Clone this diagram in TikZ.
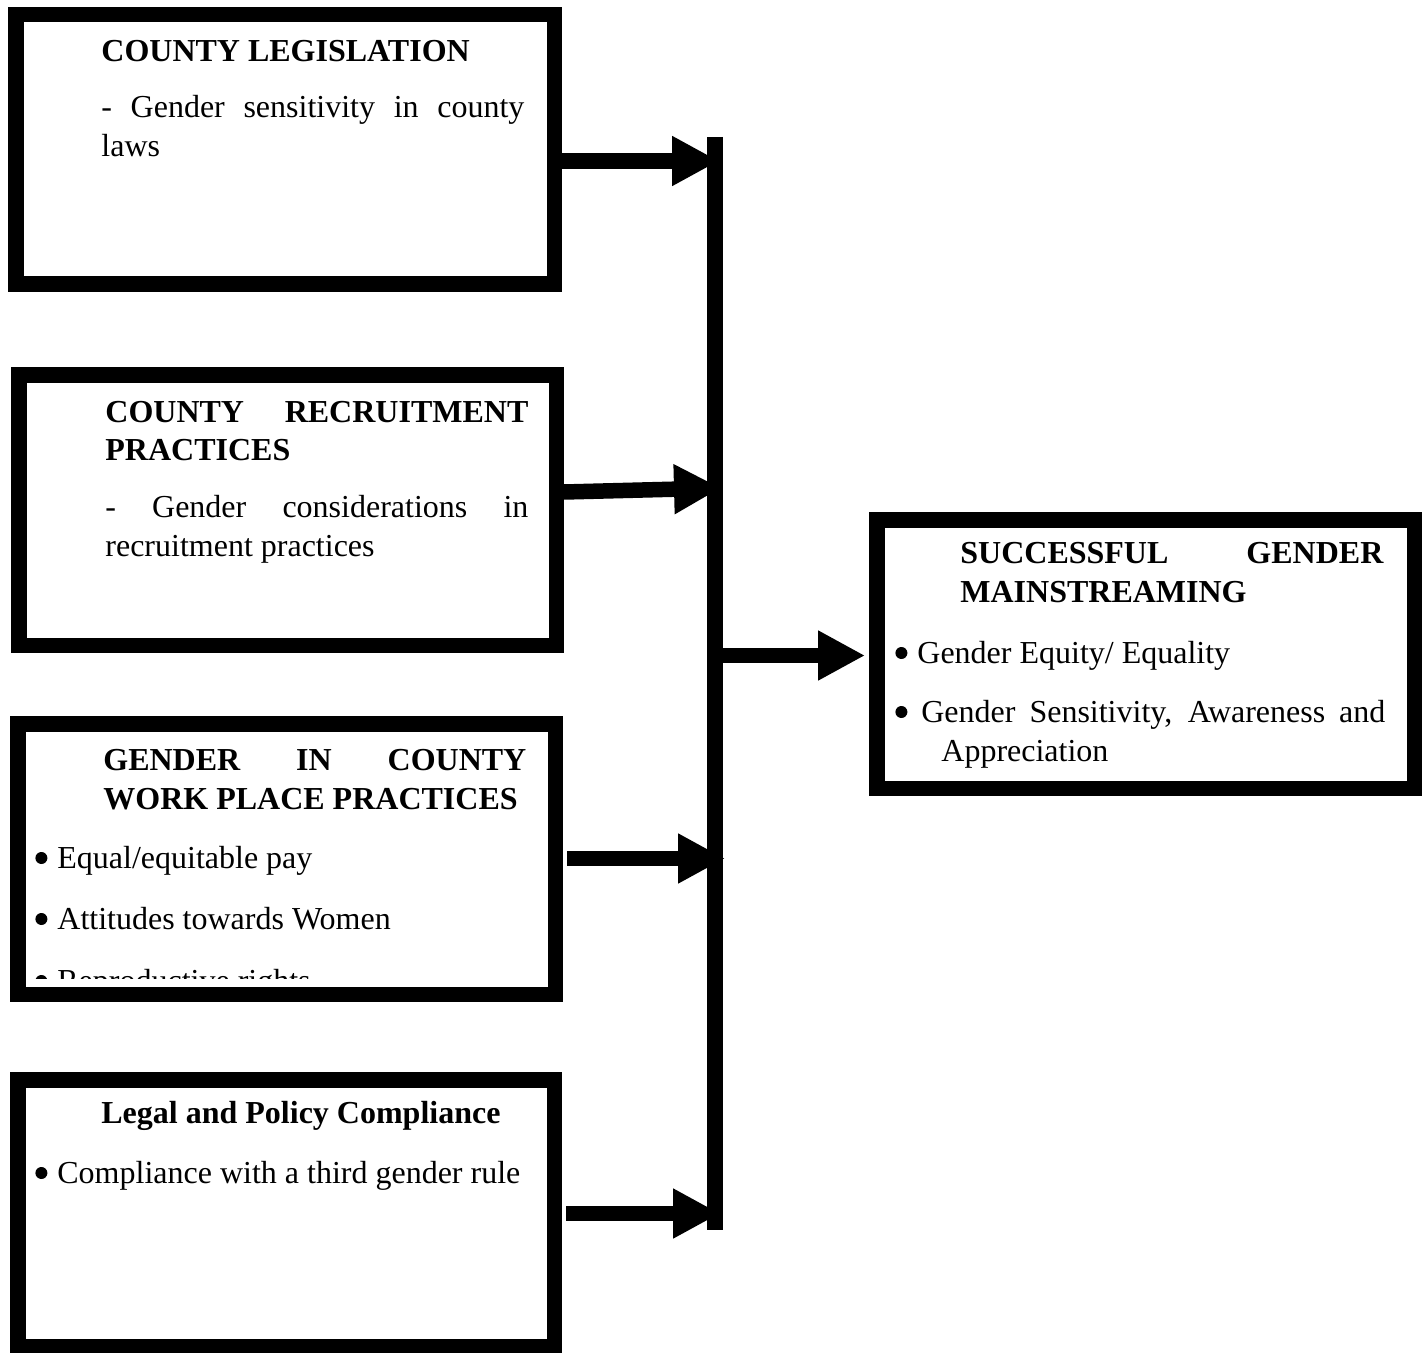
\documentclass[tikz,border=0pt]{standalone}
\usepackage{fontspec}
\setmainfont{Liberation Serif}
\usetikzlibrary{arrows.meta}
\hyphenpenalty=10000
\exhyphenpenalty=10000
\tolerance=10000
\newcommand{\blt}{\tikz[baseline=-5pt]\fill (0,0) circle (3pt);}

\begin{document}
\begin{tikzpicture}[x=5pt,y=5pt,
  frame/.style={draw=black,line width=7.75pt,minimum width=268.75pt,minimum height=135.25pt},
  txt/.style={anchor=base west,font=\fontsize{16pt}{19.5pt}\selectfont},
  head/.style={txt,font=\fontsize{16pt}{19.5pt}\selectfont\bfseries},
  para/.style={text width=211.5pt,align=justify},
  flow/.style={line width=7.75pt,-{Triangle[length=23.5pt,width=23.5pt]}}]
\tikzstyle{every node}+=[inner sep=0pt]
\useasboundingbox (0,0) rectangle (142.8,-135.3);
% boxes
\node [frame,minimum width=269.25pt,minimum height=134.75pt] (legis) at (28.5,-14.95) {};
\node [frame] (recruit) at (28.75,-51.0) {};
\node [frame] (workplace) at (28.65,-85.9) {};
\node [frame,minimum width=268.25pt,minimum height=133.25pt] (legal) at (28.6,-121.3) {};
\node [frame,minimum height=134.25pt] (success) at (114.55,-65.4) {};
% texts
\node [head] (legisHead) at (10.1,-6.2) {COUNTY LEGISLATION};
\node [txt,para] (legisBody) at (10.1,-11.8) {- Gender sensitivity in county laws};
\node [head,para] (recruitHead) at (10.5,-42.2) {COUNTY RECRUITMENT PRACTICES};
\node [txt,para] (recruitBody) at (10.5,-51.7) {- Gender considerations in recruitment practices};
\node [head,para] (workHead) at (10.3,-77.0) {GENDER IN COUNTY WORK PLACE PRACTICES};
\begin{scope}
\clip (2.5,-73.2) rectangle (54.8,-97.8);
\node [txt] (workPay) at (3.5,-86.8) {\blt\hspace{5pt}Equal/equitable pay};
\node [txt] (workAtt) at (3.5,-92.9) {\blt\hspace{5pt}Attitudes towards Women};
\node [txt] (workRep) at (3.5,-99.1) {\blt\hspace{5pt}Reproductive rights};
\end{scope}
\node [head] (legalHead) at (10.1,-112.3) {Legal and Policy Compliance};
\node [txt] (legalRule) at (3.5,-118.3) {\blt\hspace{5pt}Compliance with a third gender rule};
\node [head,para] (successHead) at (96.0,-56.3) {SUCCESSFUL GENDER MAINSTREAMING};
\node [txt] (successEq) at (89.5,-66.3) {\blt\hspace{5pt}Gender Equity/ Equality};
\node [txt,text width=245pt,align=justify] (successSens) at (89.5,-72.2)
  {\hangindent=23pt\hangafter=1 \blt\ Gender Sensitivity, Awareness and Appreciation\par};
% arrows into the bar
\coordinate (t1) at (71.9,-16.1);
\coordinate (s2) at (56.4,-49.2);
\coordinate (t2) at (72.1,-48.8);
\coordinate (t3) at (72.5,-85.85);
\coordinate (t4) at (72.0,-121.35);
\draw [flow] (legis.east |- t1) -- (t1);
\draw [flow] (recruit.east |- s2) -- (t2);
\draw [flow,shorten <=2pt] (workplace.east |- t3) -- (t3);
\draw [flow,shorten <=2pt] (legal.east |- t4) -- (t4);
% bar and output
\coordinate (barTop) at (71.5,-13.7);
\coordinate (barBot) at (71.5,-123.0);
\coordinate (hub) at (71.5,-65.55);
\draw [line width=8pt] (barTop) -- (barBot);
\draw [flow,shorten >=2pt] (hub) -- (success.west |- hub);
\end{tikzpicture}
\end{document}
